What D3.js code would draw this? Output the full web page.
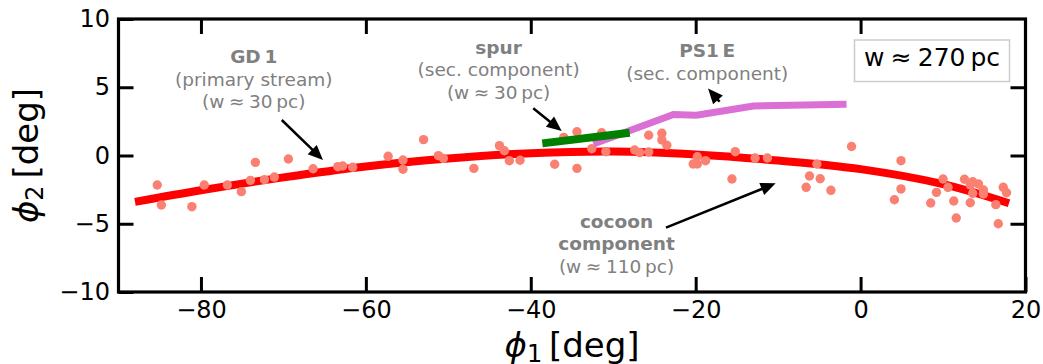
<!DOCTYPE html>
<html>
<head>
<meta charset="utf-8">
<script src="https://cdn.jsdelivr.net/npm/d3@7"></script>
<style>
  body { margin: 0; background: white; }
  svg { display: block; font-family: "DejaVu Sans", sans-serif; }
</style>
</head>
<body>
<script>
// track of the primary stream (GD-1)
var trackPhi1 = [-88, -80, -70, -60, -50, -40, -30, -20, -10, 0, 10, 18];
var trackPhi2 = [-3.4, -2.55, -1.6, -0.8, -0.22, 0.17, 0.3, 0.08, -0.37, -1.0, -2.1, -3.5];

// spur (green) and PS1 E (orchid)
var spurPhi1 = [-38.6, -28.0];
var spurPhi2 = [0.89, 1.67];
var ps1ePhi1 = [-32.4, -22.7, -19.9, -13.0, -1.7];
var ps1ePhi2 = [0.84, 3.0, 2.95, 3.63, 3.75];

// member stars
var starPhi1 = [-85.3, -84.8, -81.1, -79.6, -76.8, -75.1, -74.0, -73.4, -72.3, -71.1,
  -69.4, -66.4, -63.4, -62.8, -61.6, -57.3, -55.5, -55.5, -53.0, -51.2,
  -50.6, -46.9, -43.8, -43.2, -42.6, -41.3, -37.1, -36.0, -34.4, -34.4,
  -32.6, -31.4, -30.9, -27.4, -26.8, -25.7, -25.7, -24.1, -24.1, -23.5,
  -20.3, -19.8, -19.8, -18.8, -15.6, -15.2, -12.8, -11.3, -6.6, -6.2,
  -5.3, -4.9, -3.6, -1.1, 4.9, 4.9, 4.1, 8.5, 9.2, 10.0,
  10.6, 11.3, 11.6, 12.6, 13.3, 13.3, 13.6, 13.6, 14.3, 14.9,
  14.9, 16.4, 16.7, 17.3, 17.7];
var starPhi2 = [-2.16, -3.63, -3.75, -2.16, -2.16, -2.65, -1.82, -0.5, -1.77, -1.58,
  -0.26, -0.97, -0.82, -0.77, -0.86, -0.06, -0.33, -1.01, 1.16, -0.01,
  -0.21, -0.94, 0.72, 0.35, -0.38, -0.35, -0.64, 1.33, 1.74, -0.94,
  0.5, 1.67, 0.28, 0.4, 0.21, 1.48, 0.26, 1.63, 1.14, 0.75,
  -0.62, -0.09, -0.62, -0.38, -1.72, 0.28, -0.18, -0.18, -2.33, -1.5,
  -0.62, -1.7, -2.55, 0.66, -0.38, -2.45, -3.24, -3.48, -2.7, -1.72,
  -2.33, -3.33, -4.58, -1.74, -2.16, -3.46, -1.92, -2.77, -2.09, -2.53,
  -2.82, -3.6, -5.0, -2.33, -2.73];

var xTicks = [-80, -60, -40, -20, 0, 20];
var yTicks = [-10, -5, 0, 5, 10];

// annotation text blocks: [phi1, phi2 of first baseline, lines]
var labels = [
  { x: -73.6, y: 6.74, lines: [["GD\u20091", true], ["(primary stream)", false], ["(w\u2005\u2248\u200530\u2009pc)", false]] },
  { x: -43.9, y: 7.44, lines: [["spur", true], ["(sec. component)", false], ["(w\u2005\u2248\u200530\u2009pc)", false]] },
  { x: -18.6, y: 7.19, lines: [["PS1\u2009E", true], ["(sec. component)", false]] },
  { x: -29.6, y: -5.31, lines: [["cocoon", true], ["component", true], ["(w\u2005\u2248\u2005110\u2009pc)", false]] }
];
// arrows: tail -> tip
var arrows = [
  { x0: -70.2, y0: 2.6, x1: -65.2, y1: -0.33 },
  { x0: -39.7, y0: 3.46, x1: -36.25, y1: 1.79 },
  { x0: -17.1, y0: 3.94, x1: -18.5, y1: 4.9 },
  { x0: -23.6, y0: -5.29, x1: -10.3, y1: -2.04 }
];
var boxText = "w\u2005\u2248\u2005270\u2009pc";

var W = 1043, H = 364;
var pLeft = 118.5, pRight = 1025.5, pTop = 19, pBottom = 292;

var svg = d3.select("body").append("svg").attr("width", W).attr("height", H);

var x = d3.scaleLinear().domain([-90, 20]).range([pLeft, pRight]);
var y = d3.scaleLinear().domain([-10, 10]).range([pBottom, pTop]);

var line = d3.line().x(function(d) { return x(d[0]); }).y(function(d) { return y(d[1]); });

// red track
svg.append("path")
  .datum(d3.zip(trackPhi1, trackPhi2))
  .attr("d", line.curve(d3.curveCatmullRom))
  .attr("fill", "none")
  .attr("stroke", "red")
  .attr("stroke-width", 8);

// stars
svg.selectAll(".star")
  .data(d3.zip(starPhi1, starPhi2))
  .enter().append("circle")
  .attr("class", "star")
  .attr("cx", function(d) { return x(d[0]); })
  .attr("cy", function(d) { return y(d[1]); })
  .attr("r", 4.7)
  .attr("fill", "salmon");

var straight = d3.line().x(function(d) { return x(d[0]); }).y(function(d) { return y(d[1]); });
svg.append("path")
  .datum(d3.zip(ps1ePhi1, ps1ePhi2))
  .attr("d", straight)
  .attr("fill", "none")
  .attr("stroke", "orchid")
  .attr("stroke-width", 7);
svg.append("path")
  .datum(d3.zip(spurPhi1, spurPhi2))
  .attr("d", straight)
  .attr("fill", "none")
  .attr("stroke", "green")
  .attr("stroke-width", 8);

// axes, ticks inward
function styleAxis(g) {
  g.select(".domain").remove();
  g.selectAll(".tick line").attr("stroke", "black").attr("stroke-width", 3);
  g.selectAll(".tick text").attr("fill", "black").style("font-size", "24px")
    .style("font-family", "DejaVu Sans");
}
var fmt = function(d) { return d < 0 ? "\u2212" + Math.abs(d) : "" + d; };

svg.append("g").attr("transform", "translate(0," + pBottom + ")")
  .call(d3.axisBottom(x).tickValues(xTicks).tickFormat(fmt).tickSizeInner(-15).tickSizeOuter(0).tickPadding(9))
  .call(styleAxis);
svg.append("g").attr("transform", "translate(0," + pTop + ")")
  .call(d3.axisTop(x).tickValues(xTicks.slice(0, 5)).tickFormat("").tickSizeInner(-15).tickSizeOuter(0))
  .call(styleAxis);
svg.append("g").attr("transform", "translate(" + pLeft + ",0)")
  .call(d3.axisLeft(y).tickValues(yTicks).tickFormat(fmt).tickSizeInner(-15).tickSizeOuter(0).tickPadding(8.5))
  .call(styleAxis);
svg.append("g").attr("transform", "translate(" + pRight + ",0)")
  .call(d3.axisRight(y).tickValues([-5, 0, 5]).tickFormat("").tickSizeInner(-15).tickSizeOuter(0))
  .call(styleAxis);

svg.append("rect")
  .attr("x", pLeft).attr("y", pTop)
  .attr("width", pRight - pLeft).attr("height", pBottom - pTop)
  .attr("fill", "none").attr("stroke", "black").attr("stroke-width", 3.2);

// axis labels
var xl = svg.append("text")
  .attr("x", (pLeft + pRight) / 2).attr("y", 357)
  .attr("text-anchor", "middle")
  .style("font-size", "34px");
xl.append("tspan").attr("font-style", "italic").text("\u03d5");
xl.append("tspan").attr("dy", 5).style("font-size", "24px").text("1");
xl.append("tspan").attr("dy", -5).text("\u2009[deg]");

var yl = svg.append("text")
  .attr("transform", "translate(38," + (pTop + pBottom) / 2 + ")rotate(-90)")
  .attr("text-anchor", "middle")
  .style("font-size", "34px");
yl.append("tspan").attr("font-style", "italic").text("\u03d5");
yl.append("tspan").attr("dy", 5).style("font-size", "24px").text("2");
yl.append("tspan").attr("dy", -5).text("\u2009[deg]");

// annotations
labels.forEach(function(b) {
  b.lines.forEach(function(l, i) {
    svg.append("text")
      .attr("x", x(b.x))
      .attr("y", y(b.y) + i * 22.5)
      .attr("text-anchor", "middle")
      .attr("fill", "#808080")
      .attr("font-weight", l[1] ? "bold" : "normal")
      .style("font-size", "18.5px")
      .text(l[0]);
  });
});

arrows.forEach(function(a) {
  var x0 = x(a.x0), y0 = y(a.y0), x1 = x(a.x1), y1 = y(a.y1);
  var dx = x1 - x0, dy = y1 - y0, len = Math.sqrt(dx * dx + dy * dy);
  var ux = dx / len, uy = dy / len;
  var hl = 15, hw = 6.5;
  var bx = x1 - ux * hl, by = y1 - uy * hl;
  svg.append("line")
    .attr("x1", x0).attr("y1", y0).attr("x2", bx + ux * 2).attr("y2", by + uy * 2)
    .attr("stroke", "black").attr("stroke-width", 2.5);
  svg.append("path")
    .attr("d", "M" + x1 + "," + y1 + "L" + (bx - uy * hw) + "," + (by + ux * hw) +
      "L" + (bx + uy * hw) + "," + (by - ux * hw) + "Z")
    .attr("fill", "black");
});

// width box
svg.append("rect")
  .attr("x", pRight - 171).attr("y", pTop + 21)
  .attr("width", 155).attr("height", 41.5)
  .attr("fill", "white").attr("stroke", "#cccccc").attr("stroke-width", 1.5);
svg.append("text")
  .attr("x", pRight - 171 + 77.5).attr("y", pTop + 47)
  .attr("text-anchor", "middle")
  .attr("fill", "black")
  .style("font-size", "25px")
  .text(boxText);
</script>
</body>
</html>
